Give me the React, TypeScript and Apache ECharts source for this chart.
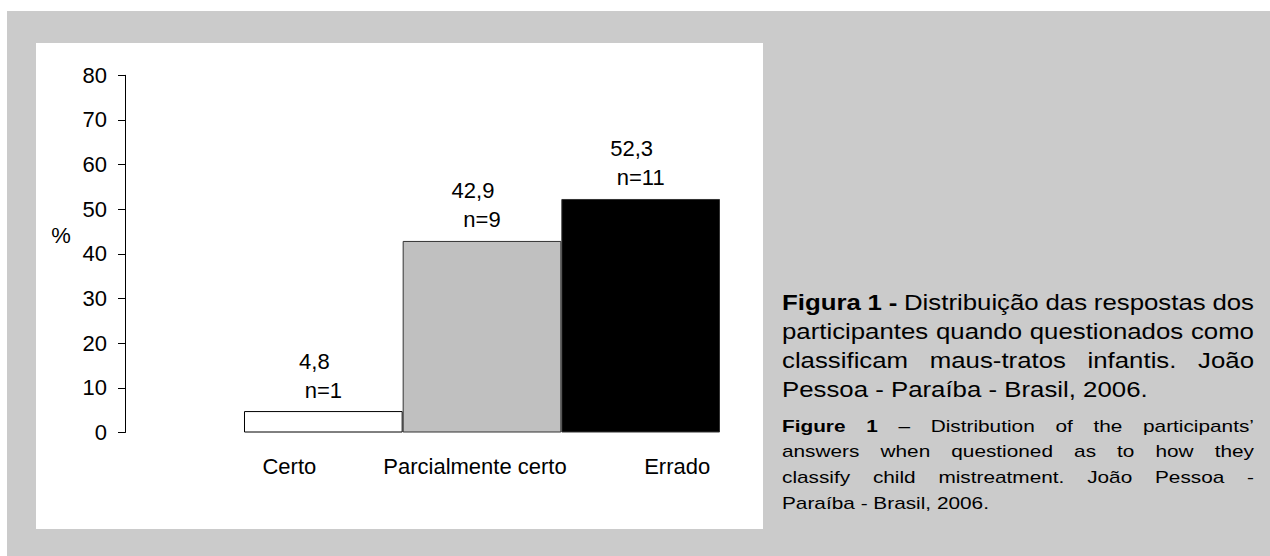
import React, { useEffect, useRef } from "react";
import * as echarts from "echarts";

const CATEGORIES = ["Certo", "Parcialmente certo", "Errado"];
const PERCENTS = [4.8, 42.9, 52.3];
const COUNTS = [1, 9, 11];
const BAR_COLORS = ["#ffffff", "#c0c0c0", "#000000"];
const BAR_BORDERS = ["#000000", "#333333", "#333333"];
const Y_MIN = 0;
const Y_MAX = 80;
const Y_STEP = 10;
const Y_NAME = "%";

const CAPTION_PT = [
  "**Figura 1 -** Distribuição das respostas dos",
  "participantes quando questionados como",
  "classificam maus-tratos infantis. João",
  "Pessoa - Paraíba - Brasil, 2006.",
];
const CAPTION_EN = [
  "**Figure 1** – Distribution of the participants’",
  "answers when questioned as to how they",
  "classify child mistreatment.  João Pessoa -",
  "Paraíba - Brasil, 2006.",
];

const FAMILY = '"Liberation Sans", Arial, Helvetica, sans-serif';
const FS = 22;
// horizontal offset of each category label relative to its bar (layout only)
const LABEL_PAD = [
  [0, 68, 0, 0],
  [0, 14, 0, 0],
  [0, 0, 0, 73],
];

function parseWords(line: string) {
  const out: { t: string; b: boolean }[] = [];
  const parts = line.split("**");
  parts.forEach((p, i) => {
    const bold = i % 2 === 1;
    p.split(/\s+/).filter((w) => w.length > 0).forEach((w) => out.push({ t: w, b: bold }));
  });
  return out;
}

function buildCaption(
  lines: string[],
  x0: number,
  x1: number,
  ys: number[],
  size: number,
  sx: number
) {
  const canvas = document.createElement("canvas");
  const ctx = canvas.getContext("2d")!;
  const measure = (t: string, f: string) => {
    ctx.font = f;
    return ctx.measureText(t).width * sx;
  };
  const els: any[] = [];
  lines.forEach((line, li) => {
    const words = parseWords(line);
    const fonts = words.map((w) => `${w.b ? "bold " : ""}${size}px ${FAMILY}`);
    const widths = words.map((w, i) => measure(w.t, fonts[i]));
    const total = widths.reduce((a, b) => a + b, 0);
    const justify = li < lines.length - 1 && words.length > 1;
    const gap = justify
      ? (x1 - x0 - total) / (words.length - 1)
      : measure(" ", `${size}px ${FAMILY}`);
    let x = x0;
    words.forEach((w, i) => {
      els.push({
        type: "text",
        x,
        y: ys[li],
        scaleX: sx,
        z: 10,
        style: {
          text: w.t,
          font: fonts[i],
          fill: "#000",
          textVerticalAlign: "middle",
          verticalAlign: "middle",
        },
      });
      x += widths[i] + gap;
    });
  });
  return els;
}

export default function App() {
  const ref = useRef<HTMLDivElement>(null);
  useEffect(() => {
    if (!ref.current) return;
    const chart = echarts.init(ref.current, undefined, { renderer: "svg" });
    const caption = [
      ...buildCaption(CAPTION_PT, 782, 1254, [303, 332, 361, 390], 21.5, 1.2),
      ...buildCaption(CAPTION_EN, 782, 1254, [426, 451, 477, 503], 16, 1.3),
    ];
    const option: any = {
      animation: false,
      backgroundColor: "#ffffff",
      textStyle: { fontFamily: FAMILY, color: "#000" },
      grid: { left: 244, right: 550, top: 75.3, bottom: 123.5, containLabel: false },
      xAxis: {
        type: "category",
        data: CATEGORIES.map((c, i) => ({ value: c, textStyle: { padding: LABEL_PAD[i] } })),
        axisLine: { show: false },
        axisTick: { show: false },
        splitLine: { show: false },
        axisLabel: {
          interval: 0,
          fontSize: FS,
          color: "#000",
          margin: 23,
          fontFamily: FAMILY,
          hideOverlap: false,
        },
      },
      yAxis: {
        type: "value",
        min: Y_MIN,
        max: Y_MAX,
        interval: Y_STEP,
        offset: 119,
        axisLine: { show: true, lineStyle: { color: "#000", width: 1 } },
        axisTick: { show: true, length: 7, lineStyle: { color: "#000", width: 1 } },
        splitLine: { show: false },
        axisLabel: { fontSize: FS, color: "#000", margin: 18, fontFamily: FAMILY },
      },
      series: [
        {
          type: "bar",
          barCategoryGap: "0%",
          data: PERCENTS.map((v, i) => ({
            value: v,
            itemStyle: { color: BAR_COLORS[i], borderColor: BAR_BORDERS[i], borderWidth: 1 },
          })),
          label: {
            show: true,
            position: "top",
            distance: 8,
            formatter: (p: any) =>
              `{a|${String(p.value).replace(".", ",")}}\n{b|n=${COUNTS[p.dataIndex]}}`,
            rich: {
              a: { fontSize: FS, lineHeight: 32, padding: [0, 18, 0, 0], color: "#000", fontFamily: FAMILY },
              b: { fontSize: FS, lineHeight: 26, color: "#000", fontFamily: FAMILY },
            },
          },
        },
      ],
      graphic: [
        { type: "rect", z: -100, shape: { x: 7, y: 11, width: 1263, height: 545 }, style: { fill: "#cbcbcb" } },
        { type: "rect", z: -99, shape: { x: 36, y: 43, width: 727, height: 486 }, style: { fill: "#ffffff" } },
        {
          type: "text",
          x: 61,
          y: 235,
          z: 10,
          style: {
            text: Y_NAME,
            font: `${FS}px ${FAMILY}`,
            fill: "#000",
            textAlign: "center",
            align: "center",
            textVerticalAlign: "middle",
            verticalAlign: "middle",
          },
        },
        ...caption,
      ],
    };
    chart.setOption(option);
    return () => chart.dispose();
  }, []);
  return (
    <div
      ref={ref}
      style={{ position: "fixed", left: 0, top: 0, width: 1270, height: 556 }}
    />
  );
}
